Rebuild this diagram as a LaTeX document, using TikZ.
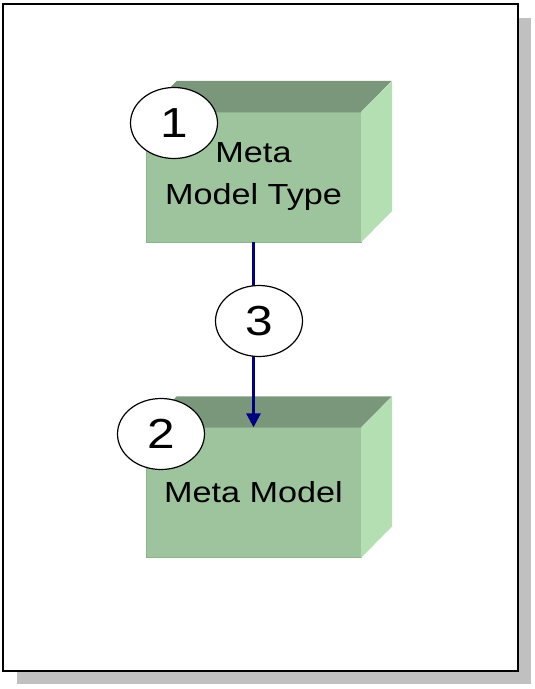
\documentclass[tikz,border=0pt]{standalone}
\usepackage{fontspec}
\setmainfont{Liberation Sans}
\newfontfamily\boxfont[FakeStretch=1.18]{Liberation Sans}
\usetikzlibrary{positioning, arrows.meta, shapes.geometric}
\definecolor{frontgreen}{HTML}{9DC49D}
\definecolor{topgreen}{HTML}{7B977B}
\definecolor{sidegreen}{HTML}{B3DFB3}
\definecolor{edgegreen}{HTML}{8DB58D}
\definecolor{shadowgray}{HTML}{C0C0C0}
\definecolor{linknavy}{HTML}{000080}

\begin{document}
\begin{tikzpicture}[
		x=1pt, y=-1pt,
		>={Triangle[length=14pt, width=14pt]},
		boxnode/.style={draw=edgegreen, fill=frontgreen, minimum width=215pt, minimum height=130pt, inner sep=0pt, align=center, font=\boxfont\fontsize{29}{42}\selectfont},
		topface/.style={fill=topgreen},
		sideface/.style={fill=sidegreen},
		numnode/.style={draw, ellipse, fill=white, line width=1.2pt, minimum width=87pt, minimum height=71pt, inner sep=0pt, font=\boxfont\fontsize{42}{42}\selectfont},
		link/.style={->, draw=linknavy, line width=3pt},
	]
	\useasboundingbox (0,0) rectangle (535,689);
	\fill[shadowgray] (17,18) rectangle (531,684);
	\draw[fill=white, line width=2pt] (3,4) rectangle (518,671);

	\node[boxnode] (mmt) at (253.5,177) {Meta\\Model Type};
	\fill[topface] (mmt.north west) -- ++(31,-31) -- ++(215,0) -- (mmt.north east) -- cycle;
	\fill[sideface] (mmt.north east) -- ++(31,-31) -- ++(0,130) -- (mmt.south east) -- cycle;

	\node[boxnode] (mm) at (253.5,492.5) {Meta Model};
	\fill[topface] (mm.north west) -- ++(31,-31) -- ++(215,0) -- (mm.north east) -- cycle;
	\fill[sideface] (mm.north east) -- ++(31,-31) -- ++(0,130) -- (mm.south east) -- cycle;

	\draw[link] (mmt.south) -- (mm.north);

	\node[numnode] (n1) at (174,123) {1};
	\node[numnode] (n2) at (161,434) {2};
	\node[numnode] (n3) at (259,321) {3};
\end{tikzpicture}
\end{document}
